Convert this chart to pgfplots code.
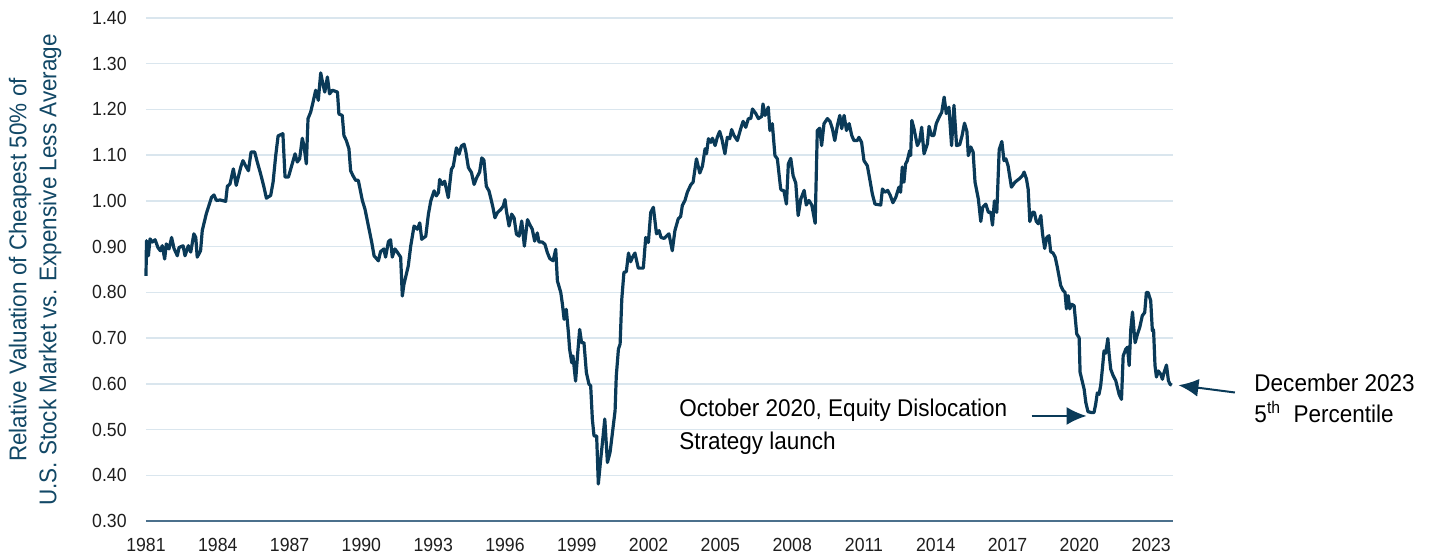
\documentclass[border=0pt]{standalone}
\usepackage{fontspec}
\setmainfont{Liberation Sans}[FakeStretch=0.93]
\usepackage{pgfplots}
\pgfplotsset{compat=1.18}
\usetikzlibrary{arrows.meta}
\definecolor{navy}{RGB}{10,58,88}
\definecolor{labelblue}{RGB}{18,72,102}
\definecolor{gridc}{RGB}{218,230,238}
\definecolor{axisc}{RGB}{75,112,140}
\definecolor{tickc}{RGB}{30,30,30}
\begin{document}
\begin{tikzpicture}
\useasboundingbox (-73pt,-17.5pt) rectangle (641.5pt,260.5pt);
\begin{axis}[
  at={(0,0)}, anchor=south west,
  scale only axis, width=513.35pt, height=251.5pt,
  xmin=1981, xmax=2023.9, ymin=0.3, ymax=1.4,
  axis x line*=bottom, axis y line*=left,
  x axis line style={axisc, line width=0.8pt, -},
  y axis line style={draw=none},
  major tick length=0pt,
  xtick={1981,1984,1987,1990,1993,1996,1999,2002,2005,2008,2011,2014,2017,2020,2023},
  xticklabels={1981,1984,1987,1990,1993,1996,1999,2002,2005,2008,2011,2014,2017,2020,2023},
  ytick={0.3,0.4,0.5,0.6,0.7,0.8,0.9,1.0,1.1,1.2,1.3,1.4},
  ymajorgrids, grid style={gridc, line width=0.75pt},
  /pgf/number format/assume math mode=true,
  tick label style={font=\fontsize{9.5}{11}\selectfont, text=tickc, inner sep=0pt},
  y tick label style={/pgf/number format/fixed, /pgf/number format/fixed zerofill, /pgf/number format/precision=2, xshift=-9.5pt},
  x tick label style={yshift=-8.5pt},
  clip=false,
]
\addplot[navy, line width=1.6pt, line join=round] coordinates {
(1981.00,0.836) (1981.02,0.913) (1981.10,0.880) (1981.17,0.917) (1981.26,0.910) (1981.38,0.915)
(1981.50,0.898) (1981.60,0.891) (1981.68,0.902) (1981.78,0.873) (1981.85,0.906) (1981.96,0.895)
(1982.07,0.920) (1982.17,0.896) (1982.31,0.880) (1982.38,0.898) (1982.55,0.902) (1982.63,0.880)
(1982.77,0.902) (1982.87,0.888) (1983.00,0.928) (1983.08,0.920) (1983.14,0.877) (1983.28,0.891)
(1983.35,0.935) (1983.52,0.972) (1983.63,0.990) (1983.74,1.008) (1983.84,1.013) (1983.94,1.001)
(1984.10,1.002) (1984.33,0.999) (1984.40,1.032) (1984.51,1.037) (1984.65,1.070) (1984.77,1.034)
(1984.96,1.074) (1985.05,1.088) (1985.16,1.077) (1985.28,1.066) (1985.39,1.107) (1985.54,1.107)
(1985.65,1.085) (1985.79,1.059) (1985.93,1.030) (1986.03,1.006) (1986.21,1.012) (1986.31,1.041)
(1986.42,1.099) (1986.52,1.142) (1986.63,1.145) (1986.72,1.147) (1986.81,1.052) (1986.95,1.052)
(1987.11,1.081) (1987.23,1.103) (1987.32,1.085) (1987.42,1.092) (1987.53,1.137) (1987.60,1.121)
(1987.70,1.081) (1987.77,1.180) (1987.88,1.194) (1987.98,1.216) (1988.09,1.242) (1988.20,1.220)
(1988.30,1.280) (1988.40,1.253) (1988.47,1.238) (1988.58,1.271) (1988.67,1.234) (1988.79,1.242)
(1989.00,1.238) (1989.06,1.190) (1989.20,1.187) (1989.27,1.143) (1989.37,1.132) (1989.48,1.114)
(1989.55,1.066) (1989.65,1.055) (1989.76,1.045) (1989.87,1.045) (1990.04,1.001) (1990.15,0.982)
(1990.29,0.946) (1990.43,0.910) (1990.53,0.880) (1990.71,0.869) (1990.80,0.889) (1990.94,0.895)
(1991.01,0.877) (1991.13,0.911) (1991.22,0.915) (1991.29,0.877) (1991.40,0.895) (1991.50,0.888)
(1991.64,0.877) (1991.71,0.792) (1991.78,0.818) (1991.96,0.858) (1992.06,0.901) (1992.20,0.945)
(1992.34,0.938) (1992.44,0.952) (1992.52,0.916) (1992.69,0.923) (1992.80,0.971) (1992.90,1.000)
(1993.04,1.022) (1993.13,1.011) (1993.22,1.018) (1993.27,1.047) (1993.38,1.036) (1993.48,1.043)
(1993.63,1.007) (1993.76,1.069) (1993.84,1.076) (1993.97,1.116) (1994.08,1.102) (1994.18,1.120)
(1994.29,1.124) (1994.36,1.109) (1994.47,1.073) (1994.60,1.062) (1994.71,1.036) (1994.82,1.051)
(1994.94,1.063) (1995.03,1.094) (1995.12,1.089) (1995.22,1.032) (1995.33,1.022) (1995.42,1.003)
(1995.50,0.985) (1995.58,0.963) (1995.68,0.974) (1995.82,0.981) (1995.93,0.989) (1996.00,1.003)
(1996.06,0.978) (1996.17,0.945) (1996.28,0.971) (1996.38,0.963) (1996.48,0.927) (1996.59,0.923)
(1996.70,0.956) (1996.81,0.901) (1996.94,0.959) (1997.03,0.949) (1997.14,0.938) (1997.24,0.912)
(1997.35,0.930) (1997.42,0.910) (1997.56,0.910) (1997.67,0.905) (1997.77,0.887) (1997.87,0.874)
(1998.01,0.869) (1998.12,0.894) (1998.19,0.825) (1998.33,0.800) (1998.40,0.774) (1998.47,0.741)
(1998.56,0.763) (1998.65,0.712) (1998.70,0.676) (1998.79,0.646) (1998.84,0.661) (1998.95,0.606)
(1999.04,0.668) (1999.12,0.719) (1999.20,0.690) (1999.30,0.690) (1999.40,0.625) (1999.51,0.599)
(1999.58,0.596) (1999.65,0.523) (1999.72,0.486) (1999.83,0.486) (1999.90,0.381) (2000.00,0.435)
(2000.10,0.486) (2000.17,0.523) (2000.28,0.428) (2000.39,0.450) (2000.49,0.493) (2000.60,0.541)
(2000.65,0.617) (2000.74,0.676) (2000.81,0.687) (2000.88,0.785) (2000.97,0.844) (2001.07,0.845)
(2001.16,0.886) (2001.25,0.867) (2001.33,0.877) (2001.43,0.886) (2001.57,0.853) (2001.78,0.853)
(2001.88,0.920) (2001.99,0.909) (2002.09,0.975) (2002.20,0.986) (2002.33,0.928) (2002.44,0.935)
(2002.52,0.920) (2002.65,0.918) (2002.85,0.928) (2002.99,0.891) (2003.10,0.935) (2003.24,0.961)
(2003.34,0.966) (2003.41,0.990) (2003.52,1.001) (2003.62,1.019) (2003.76,1.035) (2003.86,1.041)
(2004.00,1.092) (2004.14,1.061) (2004.25,1.076) (2004.36,1.114) (2004.42,1.103) (2004.50,1.136)
(2004.60,1.128) (2004.67,1.137) (2004.78,1.121) (2004.87,1.139) (2004.97,1.152) (2005.06,1.136)
(2005.19,1.103) (2005.29,1.139) (2005.39,1.136) (2005.47,1.156) (2005.57,1.143) (2005.71,1.132)
(2005.85,1.158) (2005.95,1.174) (2006.06,1.161) (2006.17,1.180) (2006.27,1.180) (2006.34,1.201)
(2006.48,1.191) (2006.59,1.180) (2006.73,1.185) (2006.78,1.212) (2006.87,1.187) (2006.93,1.194)
(2007.00,1.205) (2007.07,1.154) (2007.17,1.169) (2007.28,1.099) (2007.38,1.092) (2007.52,1.026)
(2007.58,1.023) (2007.65,1.023) (2007.76,0.993) (2007.84,1.081) (2007.94,1.093) (2008.04,1.055)
(2008.15,1.039) (2008.25,0.968) (2008.36,1.004) (2008.50,1.023) (2008.59,0.991) (2008.70,1.001)
(2008.82,0.991) (2008.96,0.951) (2009.05,1.154) (2009.15,1.159) (2009.23,1.121) (2009.33,1.169)
(2009.47,1.180) (2009.58,1.174) (2009.68,1.158) (2009.78,1.132) (2009.89,1.165) (2009.99,1.187)
(2010.07,1.158) (2010.17,1.187) (2010.27,1.154) (2010.38,1.169) (2010.49,1.143) (2010.58,1.132)
(2010.72,1.132) (2010.79,1.139) (2010.90,1.128) (2011.00,1.088) (2011.14,1.077) (2011.24,1.048)
(2011.35,1.015) (2011.46,0.993) (2011.70,0.991) (2011.77,1.026) (2011.88,1.019) (2011.99,1.023)
(2012.09,1.013) (2012.21,0.996) (2012.33,1.008) (2012.46,1.030) (2012.53,1.019) (2012.60,1.074)
(2012.67,1.041) (2012.74,1.081) (2012.81,1.088) (2012.91,1.110) (2012.95,1.099) (2013.00,1.176)
(2013.09,1.158) (2013.23,1.121) (2013.33,1.132) (2013.41,1.161) (2013.51,1.103) (2013.65,1.125)
(2013.72,1.163) (2013.82,1.143) (2013.92,1.143) (2014.02,1.169) (2014.14,1.183) (2014.25,1.194)
(2014.35,1.227) (2014.44,1.191) (2014.55,1.205) (2014.66,1.121) (2014.76,1.209) (2014.87,1.121)
(2015.00,1.123) (2015.10,1.143) (2015.20,1.170) (2015.30,1.152) (2015.36,1.099) (2015.46,1.118)
(2015.56,1.107) (2015.64,1.041) (2015.78,1.004) (2015.88,0.955) (2015.96,0.986) (2016.09,0.993)
(2016.20,0.975) (2016.30,0.975) (2016.37,0.947) (2016.45,1.000) (2016.55,0.975) (2016.65,1.112)
(2016.76,1.130) (2016.85,1.088) (2016.93,1.092) (2017.02,1.077) (2017.16,1.030) (2017.31,1.041)
(2017.48,1.048) (2017.62,1.055) (2017.69,1.063) (2017.79,1.048) (2017.86,1.026) (2017.93,0.955)
(2018.04,0.975) (2018.12,0.975) (2018.20,0.955) (2018.29,0.950) (2018.39,0.968) (2018.46,0.928)
(2018.55,0.896) (2018.64,0.920) (2018.73,0.924) (2018.80,0.889) (2018.90,0.886) (2018.99,0.877)
(2019.08,0.855) (2019.22,0.815) (2019.32,0.804) (2019.40,0.800) (2019.46,0.764) (2019.53,0.793)
(2019.60,0.764) (2019.67,0.774) (2019.78,0.771) (2019.89,0.709) (2019.99,0.701) (2020.03,0.625)
(2020.10,0.610) (2020.20,0.588) (2020.27,0.559) (2020.36,0.539) (2020.52,0.537) (2020.61,0.537)
(2020.68,0.555) (2020.75,0.580) (2020.82,0.577) (2020.89,0.596) (2020.96,0.632) (2021.03,0.672)
(2021.10,0.667) (2021.19,0.699) (2021.24,0.667) (2021.31,0.632) (2021.41,0.618) (2021.52,0.607)
(2021.59,0.592) (2021.66,0.577) (2021.76,0.566) (2021.83,0.661) (2021.94,0.676) (2022.01,0.680)
(2022.08,0.640) (2022.15,0.720) (2022.22,0.757) (2022.29,0.712) (2022.33,0.690) (2022.43,0.709)
(2022.52,0.723) (2022.63,0.749) (2022.73,0.756) (2022.80,0.800) (2022.87,0.800) (2022.98,0.782)
(2023.05,0.716) (2023.10,0.718) (2023.16,0.640) (2023.22,0.615) (2023.30,0.628) (2023.40,0.621)
(2023.47,0.610) (2023.54,0.625) (2023.64,0.641) (2023.72,0.607) (2023.79,0.599) (2023.86,0.597)
};
\draw[navy, line width=1pt, -{Latex[length=10pt,width=9pt]}] (axis cs:2018.01,0.5297) -- (axis cs:2020.3,0.5297);
\draw[navy, line width=1pt, -{Latex[length=10pt,width=9pt]}] (axis cs:2026.5,0.581) -- (axis cs:2024.14,0.597);
\node[anchor=west, align=left, inner sep=0pt, text=black, font=\fontsize{12.1}{16.5}\selectfont] at (axis cs:2003.27,0.507) {October 2020, Equity Dislocation\\Strategy launch};
\node[anchor=west, align=left, inner sep=0pt, text=black, font=\fontsize{12.1}{15.5}\selectfont] at (axis cs:2027.3,0.569) {December 2023\\5\textsuperscript{th}\ \ Percentile};
\end{axis}
\node[rotate=90, align=center, inner sep=0pt, text=labelblue, font=\fontsize{12.1}{15}\selectfont] at (-55.5pt,125.5pt) {Relative Valuation of Cheapest 50\% of\\U.S. Stock Market vs. Expensive Less Average};
\end{tikzpicture}
\end{document}
